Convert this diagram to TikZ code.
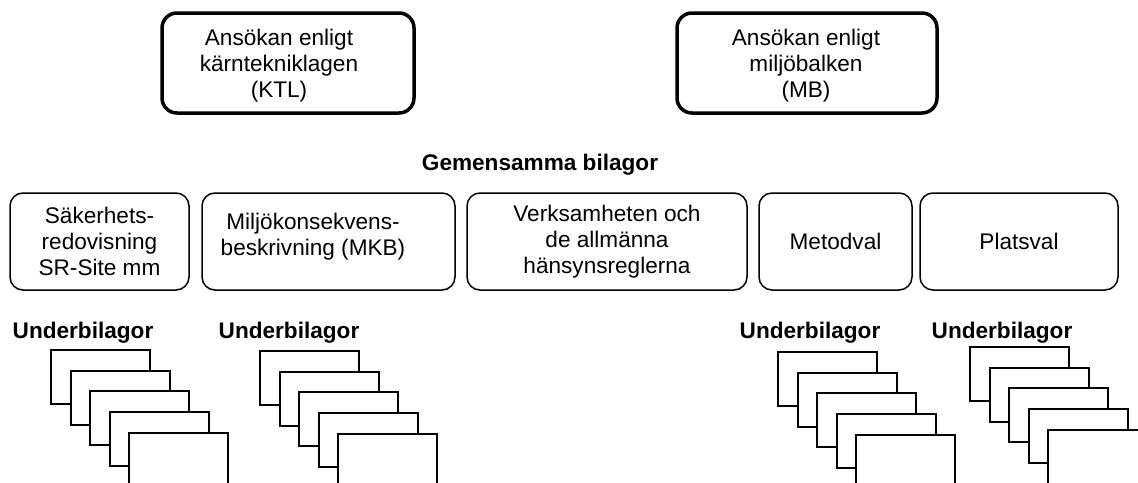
\documentclass[tikz,border=0pt]{standalone}
\usepackage{fontspec}
\setmainfont{Liberation Sans}
\usetikzlibrary{positioning}
\def\TextSize{\fontsize{22.6}{26}\selectfont}

\begin{document}
\begin{tikzpicture} [
     x=1pt, y=-1pt,
     every node/.style = {font=\TextSize, align=center, inner sep=0pt},
     ansokan/.style = {draw, line width=3.5pt, rounded corners=15pt, minimum height=100pt},
     bilaga/.style = {draw, line width=1.5pt, rounded corners=13pt, minimum height=97pt},
     rubrik/.style = {font=\TextSize\bfseries, anchor=base},
     sida/.style = {draw, line width=2pt, fill=white, anchor=north west,
                    minimum width=99pt, minimum height=54pt}
]
  \clip (0,0) rectangle (1138,482);

  % Nodes and Positions
  % LEVEL 0 (TOP)
  \node[ansokan, minimum width=252pt] (ktl) at (288,63) {};
  \node (ktltext) at (279,66) {Ansökan enligt\\kärntekniklagen\\(KTL)};
  \node[ansokan, minimum width=260pt] (mb) at (807,63) {};
  \node (mbtext) at (806,66) {Ansökan enligt\\miljöbalken\\(MB)};

  % LEVEL -1
  \node[rubrik] (gemensamma) at (540,170) {Gemensamma bilagor};

  \node[bilaga, minimum width=179pt] (sr)     at (99.5,241.5)  {Säkerhets-\\redovisning\\SR-Site mm};
  \node[bilaga, minimum width=253pt] (mkb)    at (328.5,241.5) {};
  \node (mkbtext) at (313,237) {Miljökonsekvens-\\beskrivning (MKB)};
  \node[bilaga, minimum width=280pt] (verk)   at (607,241.5)   {Verksamheten och\\de allmänna\\hänsynsreglerna};
  \node[bilaga, minimum width=153pt] (metod)  at (835.5,241.5) {Metodval};
  \node[bilaga, minimum width=198pt] (plats)  at (1019,241.5)  {Platsval};

  % LEVEL -2
  \node[rubrik] (ub1) at (83,338)   {Underbilagor};
  \node[rubrik] (ub2) at (289,338)  {Underbilagor};
  \node[rubrik] (ub3) at (810,338)  {Underbilagor};
  \node[rubrik] (ub4) at (1002,338) {Underbilagor};

  % LEVEL -3, stacks of pages
  \foreach \n/\x/\y in {1/50/349, 2/259/350, 3/777/351, 4/969/346}
    \foreach \i in {0,...,4}
      \node[sida] (sida\n\i) at ({\x+19.5*\i},{\y+20.7*\i}) {};

\end{tikzpicture}
\end{document}
